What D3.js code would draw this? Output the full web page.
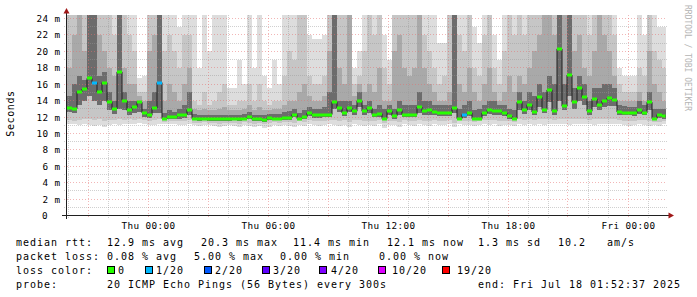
<!DOCTYPE html>
<html><head><meta charset="utf-8">
<script src="https://cdn.jsdelivr.net/npm/d3@7/dist/d3.min.js"></script>
<style>
html,body{margin:0;padding:0;background:#fff;overflow:hidden}
svg{display:block}
text{font-family:"DejaVu Sans Mono","Liberation Mono",monospace;fill:#000}
</style></head><body>
<svg id="chart" width="697" height="297"></svg>
<script>
// ---------- data (ms), one value per 15-minute slot ----------
const medianMs = [
 13.1,13.0,15.1,15.4,16.7,16.2,15.0,16.2,13.8,13.0,
 17.5,14.0,12.8,13.2,13.8,12.5,12.2,13.1,16.2,11.8,
 12.0,12.0,12.2,12.3,12.9,11.8,11.75,11.8,11.7,11.75,
 11.7,11.75,11.7,11.8,11.75,11.8,12.0,11.7,11.75,11.6,
 11.9,11.8,11.8,11.9,11.9,12.3,11.8,12.0,12.5,12.2,
 12.2,12.3,12.3,13.8,13.1,12.5,13.1,12.7,14.0,12.7,
 13.1,12.3,12.4,11.8,12.7,12.1,12.8,12.3,12.3,12.3,
 13.2,12.7,12.8,12.6,12.5,12.5,12.5,13.1,11.8,12.3,
 12.5,11.8,11.8,12.5,12.8,12.7,12.7,12.5,12.1,11.8,
 13.8,12.8,13.5,12.6,14.4,12.9,15.3,12.7,20.3,13.3,
 17.1,13.8,15.5,14.4,12.7,14.2,13.5,14.0,14.3,14.1,
 12.6,12.5,12.5,12.5,12.8,12.5,13.8,11.8,12.3,12.1];
// loss bucket index per slot (0 = 0/20, 1 = 1/20 ...)
const lossIdx = [
 0,0,0,0,0,1,0,0,0,0, 0,0,0,0,0,0,0,0,1,0,
 0,0,0,0,0,0,0,0,0,0, 0,0,0,0,0,0,0,0,0,0,
 0,0,0,0,0,0,0,0,0,0, 0,0,0,0,0,0,0,0,0,0,
 0,0,0,0,0,0,0,0,0,0, 0,0,0,0,0,0,0,0,0,1,
 0,0,0,0,0,0,0,0,0,0, 0,0,0,0,0,0,0,0,0,0,
 0,0,0,0,0,0,0,0,0,0, 0,0,0,0,0,0,0,0,0,0];
// smoke: tops of the four layers (outer -> inner), 25 = beyond the top
const smokeT1 = [
 25,25,25,25,25,25,25,25,25,25, 25,25,25,25,16.8,17,25,25,25,25, 25,25,23,25,25,
 25,18,25,20,25,25,25,15.5,15.5,19, 16,25,18,25,17,15.5,19,16,25,25, 25,25,25,22,21.5,21.5,22,25,25,25, 25,25,18,20,25,
 25,25,25,22,19,25,25,25,25,25, 25,25,25,25,21,21,25,25,25,25, 25,23,21,25,25,22,19,25,25,25,
 25,25,25,25,25,25,25,25,25,25, 25,25,25,25,25,25,25,25,25,25, 18,17,17,17,25,22,25,25,23,23];
const smokeT2 = [
 25,25,25,25,25,25,25,25,25,22, 25,25,22,20,15,15,25,25,25,20, 22,20,18,22,22,
 14,13.5,15,13.5,14,15,16,13.5,13.5,14, 14,16,14,16,14,13.5,14,14,17,20, 19,25,25,17,16,16,17,25,25,25, 25,25,16,17,20,
 25,22,25,18,16,25,25,25,25,25, 25,22,20,18,16,17,25,25,22,20, 25,18,17,22,25,18,16,20,25,22,
 25,22,25,25,25,25,25,25,25,25, 25,25,25,25,22,25,25,25,25,22, 16,15,15,15,18,17,25,20,19,18];
const smokeT3 = [
 18,22,25,20,25,25,22,20,18,17, 25,18,16,16,14.5,14,20,22,25,14, 16,15,14,16,18,
 13,12.8,13,12.8,12.8,13,13.2,12.8,12.8,12.8, 13,13.5,12.8,13.2,12.8,12.8,13,13,13.5,14, 14,15,16,14.5,14,14,14.5,20,25,18, 16,25,14.5,16,15,
 16,15,18,14,14,20,22,18,17,18, 25,18,16,15,14,14,15,25,16,15, 18,15,14,16,18,15,14,15,17,15,
 17,16,18,20,22,25,25,22,25,25, 25,20,22,18,17,20,25,22,20,17, 14,14,14,14,15,14,20,16,15,14];
const smokeT4 = [
 14.5,16,17,16.5,25,25,17,17.5,15,14, 25,15,14,14,14,13,14,15,25,12.5, 12.8,12.6,13,13.5,15,
 12.4,12.3,12.3,12.3,12.2,12.2,12.3,12.2,12.3,12.3, 12.4,12.6,12.3,12.3,12.2,12.4,12.4,12.4,12.6,12.7, 13,12.5,12.8,13.2,13,13,13.2,15,25,14, 14,14,13.5,15,13.5,
 14,13,13.5,13,13.5,13,14,13.5,13.5,13.5, 15,14,14,13.5,13.5,13.5,13.5,25,13,13.5, 14,12.8,13,13.5,14,14,13.5,13.5,13,12.8,
 15,14,15,14.5,16,15,17,16,25,16, 25,15.5,17,16,14,15.5,15.5,16,16,15.5, 13.5,13.3,13.2,13.2,14,13.5,15,13,13,13];
// smoke: bottoms (outer, middle, inner)
const smokeB1 = [
 11.2,11.1,11.0,11.2,11.0,10.9,11.0,10.8,11.0,11.1, 11.0,11.1,11.2,11.1,11.3,11.2,11.0,11.0,11.1,11.1, 11.2,11.1,11.0,11.0,11.1,
 11.0,10.9,11.0,11.0,10.9,10.8,10.9,11.0,10.9,10.8, 11.0,10.9,10.8,10.9,10.7,10.8,11.0,10.9,11.0,10.9, 10.8,11.0,10.9,11.1,11.0,10.9,11.0,11.1,11.0,10.9, 11.0,10.8,11.1,11.0,10.9,
 11.0,10.9,11.1,10.7,11.0,11.0,10.8,11.1,11.0,10.9, 11.1,11.0,10.9,11.1,11.0,11.0,11.1,10.8,11.1,11.0, 11.0,10.9,11.0,11.1,11.0,11.1,10.9,11.0,11.0,10.9,
 11.1,11.0,11.2,11.0,11.1,11.0,11.2,11.1,11.1,11.2, 11.0,11.2,11.1,11.2,11.1,11.0,11.2,11.1,11.1,11.2, 11.1,11.0,10.9,11.0,11.1,11.0,10.9,11.0,10.9,11.1];
const smokeB2 = [
 11.6,11.5,11.6,11.8,11.8,11.6,11.7,11.5,11.6,11.6, 11.7,11.6,11.7,11.6,11.7,11.6,11.5,11.6,11.7,11.4, 11.5,11.5,11.5,11.5,11.6,
 11.3,11.3,11.4,11.3,11.3,11.2,11.3,11.3,11.3,11.2, 11.4,11.3,11.2,11.3,11.1,11.3,11.4,11.3,11.4,11.4, 11.3,11.5,11.4,11.6,11.5,11.5,11.5,11.6,11.6,11.5, 11.6,11.4,11.6,11.6,11.5,
 11.5,11.5,11.6,11.3,11.5,11.5,11.4,11.6,11.5,11.5, 11.6,11.5,11.5,11.6,11.5,11.5,11.6,11.3,11.6,11.5, 11.5,11.4,11.5,11.6,11.6,11.6,11.5,11.5,11.5,11.4,
 11.7,11.6,11.8,11.6,11.8,11.7,11.8,11.6,11.8,11.7, 11.8,11.8,11.8,11.8,11.6,11.7,11.8,11.7,11.8,11.8, 11.6,11.5,11.5,11.5,11.6,11.6,11.5,11.4,11.4,11.5];
const smokeB3 = [
 12.6,12.5,13.5,14.0,14.5,14.0,13.5,14.0,12.8,12.4, 13.0,12.8,12.2,12.5,12.6,12.0,11.9,12.5,12.5,11.6, 11.7,11.7,11.8,11.9,12.2,
 11.6,11.5,11.6,11.5,11.5,11.5,11.5,11.5,11.6,11.5, 11.6,11.7,11.5,11.5,11.4,11.6,11.6,11.6,11.6,11.6, 12.0,11.6,11.7,12.1,11.9,11.9,12.0,12.0,13.0,12.6, 12.1,12.6,12.3,13.2,12.3,
 12.5,12.0,12.0,11.6,12.2,11.8,12.3,12.0,12.0,12.0, 12.5,12.3,12.3,12.2,12.1,12.1,12.1,12.5,11.6,11.9, 12.1,11.6,11.6,12.1,12.4,12.3,12.3,12.1,11.8,11.6,
 12.8,12.4,12.8,12.2,13.2,12.5,13.8,12.3,14.0,12.8, 14.5,13.0,14.0,13.5,12.3,13.2,12.9,13.2,13.4,13.3, 12.2,12.2,12.2,12.1,12.4,12.2,12.8,11.6,11.9,11.8];

const yTickVals = [0,2,4,6,8,10,12,14,16,18,20,22,24];
const yTickLabels = ["0","2 m","4 m","6 m","8 m","10 m","12 m","14 m","16 m","18 m","20 m","22 m","24 m"];
const xTickLabels = ["Thu 00:00","Thu 06:00","Thu 12:00","Thu 18:00","Fri 00:00"];
const lossLabels = ["0","1/20","2/20","3/20","4/20","10/20","19/20"];
const lossColors = ["#26ff00","#00b8ff","#0059ff","#5e00ff","#7e00ff","#dd00ff","#ff0000"];
const rttLegend = ["median rtt:","12.9 ms avg","20.3 ms max","11.4 ms min","12.1 ms now","1.3 ms sd","10.2","am/s"];
const lossLegend = ["packet loss:","0.08 % avg","5.00 % max","0.00 % min","0.00 % now"];
const probeLegend = ["probe:","20 ICMP Echo Pings (56 Bytes) every 300s","end: Fri Jul 18 01:52:37 2025"];

// ---------- layout ----------
const startTime = new Date(2025, 6, 16, 19, 57, 0);
const domainEnd = new Date(2025, 6, 18, 1, 57, 0);
const lastUpdate = new Date(2025, 6, 18, 1, 52, 37);
const SLOT_MS = 15 * 60000;
const slotStart = i => new Date(+startTime + i * SLOT_MS);
const slotEnd = i => new Date(Math.min(+startTime + (i + 1) * SLOT_MS, +lastUpdate));

const svg = d3.select("#chart");
const x = d3.scaleTime().domain([startTime, domainEnd]).range([67, 667]);
const y = d3.scaleLinear().domain([0, 24]).range([215.5, 18.5]);
const PLOT_TOP = 15;

svg.append("rect").attr("width", 697).attr("height", 297).attr("fill", "#fff");
svg.append("clipPath").attr("id", "clip").append("rect")
  .attr("x", 67).attr("y", PLOT_TOP).attr("width", 600).attr("height", 200);

// smoke
const smoke = svg.append("g").attr("clip-path", "url(#clip)").attr("shape-rendering", "crispEdges");
const layers = [
  {lo: smokeB1, hi: smokeT1, c: "#dddddd"},
  {lo: smokeB2, hi: smokeT2, c: "#c6c6c6"},
  {lo: smokeB3, hi: smokeT3, c: "#a9a9a9"},
  {lo: smokeB3, hi: smokeT4, c: "#6c6c6c"}];
layers.forEach(L => {
  smoke.selectAll(null).data(medianMs).enter().append("rect")
    .attr("x", (d, i) => x(slotStart(i)))
    .attr("width", (d, i) => x(slotEnd(i)) - x(slotStart(i)))
    .attr("y", (d, i) => y(L.hi[i]))
    .attr("height", (d, i) => y(L.lo[i]) - y(L.hi[i]))
    .attr("fill", L.c);
});

// grid
const grid = svg.append("g");
const minorCol = "rgba(150,150,150,0.45)", majorCol = "rgba(230,110,110,0.5)";
d3.range(1, 25).forEach(v => {
  const yy = Math.floor(y(v)) + 0.5;
  grid.append("line").attr("x1", 64).attr("x2", 667).attr("y1", yy).attr("y2", yy)
    .attr("stroke", v % 2 === 0 ? majorCol : minorCol).attr("stroke-dasharray", v % 2 === 0 ? "1,2" : "1,1");
});
d3.timeHour.range(d3.timeHour.ceil(startTime), domainEnd).forEach(h => {
  const xx = Math.floor(x(h)) + 0.5;
  const major = h.getHours() % 3 === 0;
  grid.append("line").attr("x1", xx).attr("x2", xx).attr("y1", PLOT_TOP).attr("y2", 218)
    .attr("stroke", major ? majorCol : minorCol).attr("stroke-dasharray", major ? "1,2" : "1,1");
});

// axes
svg.append("line").attr("x1", 66.5).attr("x2", 66.5).attr("y1", 12).attr("y2", 219)
  .attr("stroke", "#202020");
svg.append("line").attr("x1", 62).attr("x2", 669).attr("y1", 215.5).attr("y2", 215.5)
  .attr("stroke", "#202020");
svg.append("path").attr("d", "M63.5,13.5L66.5,8L69.5,13.5Z").attr("fill", "#a01818");
svg.append("path").attr("d", "M668.5,212.5L674,215.5L668.5,218.5Z").attr("fill", "#a01818");

// median line
const pts = medianMs.map((m, i) => [x(slotStart(i)), y(m)]);
pts.push([x(slotEnd(medianMs.length - 1)), y(medianMs[medianMs.length - 1])]);
svg.append("path").attr("d", d3.line().curve(d3.curveStepAfter)(pts))
  .attr("fill", "none").attr("stroke", "#202020").attr("stroke-width", 1);
svg.append("g").selectAll("line").data(medianMs).enter().append("line")
  .attr("x1", (d, i) => x(slotStart(i)))
  .attr("x2", (d, i) => x(slotEnd(i)))
  .attr("y1", d => Math.round(y(d)))
  .attr("y2", d => Math.round(y(d)))
  .attr("stroke", (d, i) => lossColors[lossIdx[i]])
  .attr("stroke-width", 3);

// y labels
svg.append("g").selectAll("text").data(yTickVals).enter().append("text")
  .attr("x", (d, i) => d === 0 ? 48 : 60.5)
  .attr("y", d => Math.floor(y(d)) + 3.5)
  .attr("text-anchor", "end")
  .style("font-size", "9.3px").style("letter-spacing", "0.4px")
  .text((d, i) => yTickLabels[i]);

// x labels
const labelTimes = d3.timeHour.every(6).range(startTime, domainEnd);
svg.append("g").selectAll("text").data(labelTimes).enter().append("text")
  .attr("x", d => Math.floor(x(d)) + 0.5)
  .attr("y", 228.5)
  .attr("text-anchor", "middle")
  .style("font-size", "9.3px").style("letter-spacing", "0.4px")
  .text((d, i) => xTickLabels[i]);

// vertical title
svg.append("text").attr("transform", "translate(13.5,113.5) rotate(-90)")
  .attr("text-anchor", "middle").style("font-size", "10px").style("letter-spacing", "0.6px")
  .text("Seconds");
// watermark
svg.append("text").attr("transform", "translate(685,5) rotate(90)")
  .style("font-size", "8px").style("fill", "#b4b4b4")
  .text("RRDTOOL / TOBI OETIKER");

// legend
const legendFont = t => t.style("font-size", "10px").style("letter-spacing", "0.98px");
const rowY = [245.5, 259.5, 273.5, 287.5];
const rttX = [16, 107, 201, 293, 387, 478, 558, 607];
const lossX = [16, 107, 194, 280, 379];
const probeX = [16, 107, 478];
const boxX = [107, 145, 204, 262, 319, 378, 442];
const boxLabelX = [118, 156, 215, 273, 331, 392, 457];
const leg = svg.append("g");
rttLegend.forEach((t, i) => leg.append("text").attr("x", rttX[i]).attr("y", rowY[0]).call(legendFont).text(t));
lossLegend.forEach((t, i) => leg.append("text").attr("x", lossX[i]).attr("y", rowY[1]).call(legendFont).text(t));
leg.append("text").attr("x", 16).attr("y", rowY[2]).call(legendFont).text("loss color:");
lossLabels.forEach((t, i) => {
  leg.append("rect").attr("x", boxX[i] + 0.5).attr("y", 266.5).attr("width", 7).attr("height", 7)
    .attr("fill", lossColors[i]).attr("stroke", "#000").attr("stroke-width", 1);
  leg.append("text").attr("x", boxLabelX[i]).attr("y", rowY[2]).call(legendFont).text(t);
});
probeLegend.forEach((t, i) => leg.append("text").attr("x", probeX[i]).attr("y", rowY[3]).call(legendFont).text(t));
</script>
</body></html>
